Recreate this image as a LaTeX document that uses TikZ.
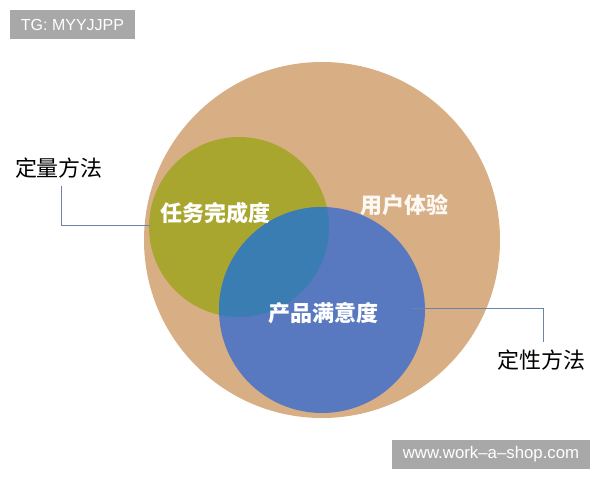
\documentclass[tikz,border=0pt]{standalone}
\usepackage{fontspec}
\setmainfont{Liberation Sans}
\newfontfamily\cjk{Noto Sans CJK SC}
\begin{document}
\begin{tikzpicture}[x=1pt,y=-1pt,
  tag/.style={fill=tagGray,text=white,inner sep=0pt,font=\fontsize{16}{16}\selectfont,anchor=center},
  lbl/.style={font=\cjk\fontsize{22}{22}\selectfont,text=black,inner sep=0pt},
  inlbl/.style={font=\cjk\bfseries\fontsize{22}{22}\selectfont,text=white,inner sep=0pt},
  conn/.style={draw=connColor,line width=0.9pt}]
\definecolor{tagGray}{HTML}{A8A8A8}
\definecolor{tan}{HTML}{D8AF84}
\definecolor{olive}{HTML}{A8A62E}
\definecolor{blueC}{HTML}{5878C0}
\definecolor{blueOv}{HTML}{3A7DB2}
\definecolor{connColor}{HTML}{6A85A8}
\useasboundingbox (0,0) rectangle (600,480);
% circles
\fill[tan] (322,240) circle[radius=178];
\fill[olive] (239,227) circle[radius=90];
\fill[blueC] (322,310) circle[radius=103];
\begin{scope}
  \clip (239,227) circle[radius=90];
  \fill[blueOv] (322,310) circle[radius=103];
\end{scope}
% connectors
\coordinate (l1) at (61,186);
\coordinate (l2) at (61,225);
\coordinate (l3) at (150,225);
\coordinate (r1) at (412,308);
\coordinate (r2) at (543,308);
\coordinate (r3) at (543,342);
\draw[conn] (l1) -- (l2) -- (l3);
\draw[conn] (r1) -- (r2) -- (r3);
% labels
\node[lbl] (qt) at (59,168) {定量方法};
\node[lbl] (ql) at (541,360) {定性方法};
\node[inlbl] (task) at (215,213) {任务完成度};
\node[inlbl,text={white!92!tan}] (ux) at (404,205) {用户体验};
\node[inlbl] (sat) at (323,313) {产品满意度};
% tags
\node[tag,minimum width=125,minimum height=29] (tg) at (72.5,24.5) {TG: MYYJJPP};
\node[tag,minimum width=198,minimum height=29,font=\fontsize{16.8}{16.8}\selectfont] (www) at (491,454.5) {www.work–a–shop.com};
\end{tikzpicture}
\end{document}
